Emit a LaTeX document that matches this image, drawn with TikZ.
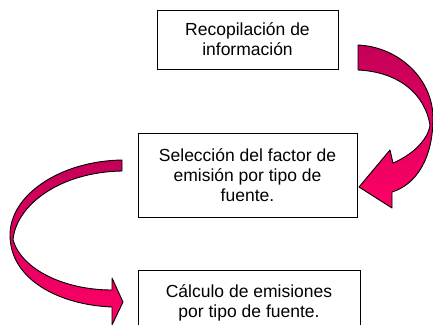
\documentclass[tikz,border=0pt]{standalone}
\usepackage{fontspec}
\setmainfont{Liberation Sans}
\usetikzlibrary{positioning,calc}
\definecolor{crimsonarrow}{RGB}{196,0,88}
\definecolor{pinkarrow}{RGB}{255,0,102}

\begin{document}
\begin{tikzpicture}[x=1pt, y=-1pt,
    stepbox/.style={draw=black, line width=0.8pt, fill=white, align=center, inner sep=0pt,
        font=\fontsize{17.5}{20}\selectfont},
    bentarrow/.style={draw=black, line width=0.9pt, line join=round,
        top color=crimsonarrow, bottom color=pinkarrow}]
    \useasboundingbox (0,0) rectangle (433,324);
    \clip (0,0) rectangle (433,324);

    % Process steps
    \node[stepbox, minimum width=181pt, minimum height=59pt] (recop) at (247.5,39.5) {Recopilación de\\información};
    \node[stepbox, minimum width=219pt, minimum height=84pt] (selec) at (247.5,175) {Selección del factor de\\emisión por tipo de\\fuente.};
    \node[stepbox, minimum width=222pt, minimum height=66pt] (calc) at (249,303) {Cálculo de emisiones\\por tipo de fuente.};

    % Curved arrow: recop -> selec (right side)
    \shadedraw[bentarrow] (358,45) .. controls (400,47) and (433,80) .. (433,118)
        .. controls (433,160) and (415,185) .. (392,192) -- (392,208) -- (359,187)
        -- (390,150) -- (393,163) .. controls (412,155) and (428,140) .. (430,125)
        .. controls (425,95) and (400,72) .. (358,70) -- cycle;

    % Curved arrow: selec -> calc (left side)
    \shadedraw[bentarrow] (122,160) .. controls (60,161) and (10,195) .. (10,235)
        .. controls (10,280) and (60,305) .. (112,307) -- (112,325) -- (123,302)
        -- (112,278) -- (112,290) .. controls (65,290) and (22,270) .. (13,240)
        .. controls (16,205) and (60,172) .. (122,171) -- cycle;
\end{tikzpicture}
\end{document}
